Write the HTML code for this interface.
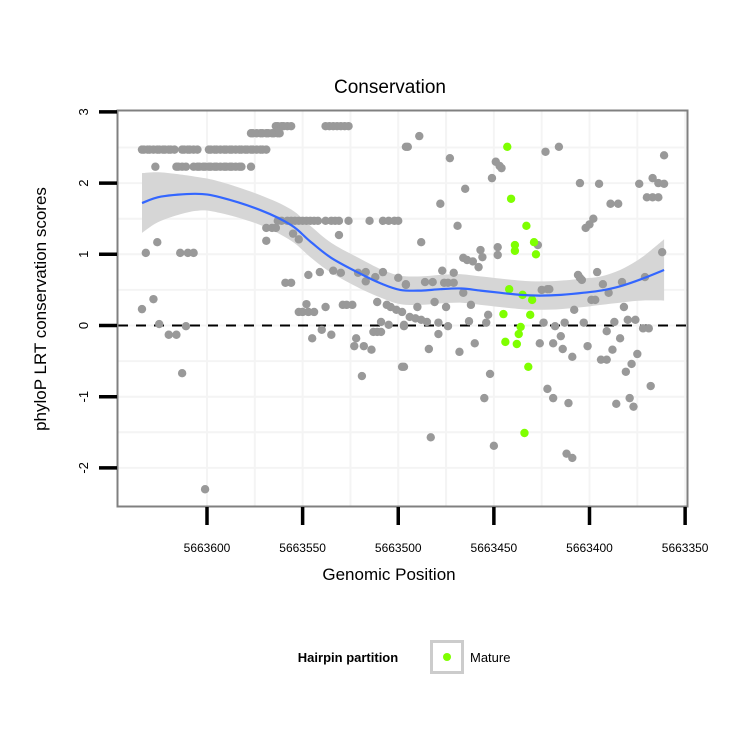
<!DOCTYPE html>
<html><head><meta charset="utf-8">
<style>
html,body{margin:0;padding:0;background:#fff;}
svg text{font-family:"Liberation Sans",sans-serif;}
</style></head>
<body>
<svg id="chart" width="750" height="750" viewBox="0 0 750 750" xmlns="http://www.w3.org/2000/svg">
<rect width="750" height="750" fill="#fff"/>
<text x="390" y="93" font-size="19" text-anchor="middle">Conservation</text>
<g id="grid"></g>
<g id="band"></g>
<line id="zeroline" stroke="#000" stroke-width="2" stroke-dasharray="10,8"/>
<g id="gray"></g>
<g id="green"></g>
<g id="smooth"></g>
<rect x="117.5" y="110.5" width="570" height="396" fill="none" stroke="#808080" stroke-width="2"/>
<g id="xaxis"></g>
<g id="yaxis"></g>
<text x="389" y="580" font-size="17" text-anchor="middle">Genomic Position</text>
<text transform="translate(46,309) rotate(-90)" font-size="17" text-anchor="middle">phyloP LRT conservation scores</text>
<g>
<text x="348" y="662" font-size="13" font-weight="bold" text-anchor="middle">Hairpin partition</text>
<rect x="431.5" y="641.5" width="31" height="31" fill="#fff" stroke="#cccccc" stroke-width="3"/>
<circle cx="447" cy="657" r="4" fill="#7fff00"/>
<text x="470" y="662" font-size="13">Mature</text>
</g>
</svg>
<script>
const BASE = 5663000;
const xTicks = [5663600,5663550,5663500,5663450,5663400,5663350];
const xTickLabels = ["5663600","5663550","5663500","5663450","5663400","5663350"];
const yTicks = [3,2,1,0,-1,-2];
const yTickLabels = ["3","2","1","0","-1","-2"];
const grayX = [634,633,631,630,628,626,625,623,622,620,619,617,613,612,610,609,607,605,599,598,596,595,593,591,590,588,587,585,583,582,580,579,577,576,574,572,571,569,
627,616,615,613,611,607,605,604,602,601,599,598,596,595,593,591,590,588,587,585,583,582,577,
577,576,574,572,571,569,568,566,565,563,562,
564,563,561,560,558,556,538,536,534,532,530,528,526,496,
563,561,558,556,554,552,550,548,546,544,542,538,535,533,531,526,515,508,505,502,500,
569,566,564,569,555,552,531,632,626,614,610,607,559,556,
547,541,534,530,521,517,517,512,508,500,496,
634,628,625,620,616,611,613,601,
552,550,547,544,548,538,529,527,524,511,506,504,501,498,
545,540,535,522,523,518,514,513,511,509,509,505,497,519,498,
489,495,473,449,447,446,451,465,478,469,488,423,416,405,395,374,367,364,361,361,370,367,364,389,385,402,400,398,427,457,456,448,448,466,464,461,458,362,477,471,486,482,476,474,471,466,496,406,405,404,396,393,390,383,371,425,422,421,399,397,408,382,481,475,462,490,494,491,488,485,453,463,454,479,474,497,424,418,413,403,387,380,376,372,369,391,384,479,460,484,468,426,419,415,414,409,401,388,394,391,375,378,381,497,452,455,422,419,411,368,386,379,377,483,450,412,409];
const grayY = [2.47,2.47,2.47,2.47,2.47,2.47,2.47,2.47,2.47,2.47,2.47,2.47,2.47,2.47,2.47,2.47,2.47,2.47,2.47,2.47,2.47,2.47,2.47,2.47,2.47,2.47,2.47,2.47,2.47,2.47,2.47,2.47,2.47,2.47,2.47,2.47,2.47,2.47,
2.23,2.23,2.23,2.23,2.23,2.23,2.23,2.23,2.23,2.23,2.23,2.23,2.23,2.23,2.23,2.23,2.23,2.23,2.23,2.23,2.23,2.23,2.23,
2.70,2.70,2.70,2.70,2.70,2.70,2.70,2.70,2.70,2.70,2.70,
2.80,2.80,2.80,2.80,2.80,2.80,2.80,2.80,2.80,2.80,2.80,2.80,2.80,2.51,
1.47,1.47,1.47,1.47,1.47,1.47,1.47,1.47,1.47,1.47,1.47,1.47,1.47,1.47,1.47,1.47,1.47,1.47,1.47,1.47,1.47,
1.37,1.37,1.37,1.19,1.29,1.21,1.27,1.02,1.17,1.02,1.02,1.02,0.60,0.60,
0.71,0.75,0.77,0.74,0.74,0.75,0.62,0.68,0.75,0.67,0.58,
0.23,0.37,0.02,-0.13,-0.13,-0.01,-0.67,-2.30,
0.19,0.19,0.19,0.19,0.30,0.26,0.29,0.29,0.29,0.33,0.29,0.26,0.22,0.19,
-0.18,-0.06,-0.13,-0.18,-0.29,-0.29,-0.34,-0.09,-0.09,-0.09,0.05,0.01,0.01,-0.71,-0.58,
2.66,2.51,2.35,2.30,2.24,2.21,2.07,1.92,1.71,1.40,1.17,2.44,2.51,2.00,1.99,1.99,2.07,2.00,1.99,2.39,1.80,1.80,1.80,1.71,1.71,1.37,1.42,1.50,1.13,1.06,0.96,1.10,0.99,0.95,0.92,0.90,0.82,1.03,0.77,0.74,0.61,0.61,0.60,0.60,0.60,0.46,0.57,0.71,0.67,0.64,0.75,0.58,0.46,0.61,0.68,0.50,0.51,0.51,0.36,0.36,0.22,0.26,0.33,0.26,0.29,0.26,0.12,0.10,0.08,0.05,0.15,0.06,0.04,0.04,-0.01,-0.01,0.04,-0.01,0.04,0.04,0.05,0.08,0.08,-0.04,-0.04,-0.08,-0.18,-0.12,-0.25,-0.33,-0.37,-0.25,-0.25,-0.15,-0.33,-0.44,-0.29,-0.34,-0.48,-0.48,-0.40,-0.54,-0.65,-0.58,-0.68,-1.02,-0.89,-1.02,-1.09,-0.85,-1.10,-1.02,-1.14,-1.57,-1.69,-1.80,-1.86];
const matureX = [443,441,433,429,439,439,428,442,435,430,445,431,436,437,444,438,432,434];
const matureY = [2.51,1.78,1.40,1.17,1.13,1.05,1.00,0.51,0.43,0.36,0.16,0.15,-0.02,-0.12,-0.23,-0.26,-0.58,-1.51];
const smoothX = [634,624,606,593,572,556,546,535,520,509,499,488,478,467,457,447,436,426,415,403,394,384,373,361];
const smoothFit = [1.72,1.81,1.85,1.80,1.62,1.41,1.18,0.95,0.73,0.59,0.50,0.49,0.51,0.52,0.49,0.46,0.43,0.42,0.43,0.46,0.49,0.55,0.65,0.78];
const smoothSE = [0.42,0.34,0.24,0.22,0.21,0.22,0.22,0.21,0.21,0.20,0.20,0.20,0.20,0.20,0.20,0.20,0.20,0.20,0.20,0.20,0.20,0.23,0.30,0.43];

const NS = "http://www.w3.org/2000/svg";
function sx(v){ return 207 + (5663600 - v) * 1.9125; }
function sy(v){ return 325.5 - v * 71.2; }
function mk(tag, attrs, parent){
  const e = document.createElementNS(NS, tag);
  for (const k in attrs) e.setAttribute(k, attrs[k]);
  parent.appendChild(e);
  return e;
}
function spline(p){
  let d = 'M' + p[0][0].toFixed(1) + ',' + p[0][1].toFixed(1);
  for (let i=0;i<p.length-1;i++){
    const p0 = p[Math.max(i-1,0)], p1 = p[i], p2 = p[i+1], p3 = p[Math.min(i+2,p.length-1)];
    const c1x = p1[0] + (p2[0]-p0[0])/6, c1y = p1[1] + (p2[1]-p0[1])/6;
    const c2x = p2[0] - (p3[0]-p1[0])/6, c2y = p2[1] - (p3[1]-p1[1])/6;
    d += ' C' + c1x.toFixed(1)+','+c1y.toFixed(1)+' '+c2x.toFixed(1)+','+c2y.toFixed(1)+' '+p2[0].toFixed(1)+','+p2[1].toFixed(1);
  }
  return d;
}
const grid = document.getElementById('grid');
[2.5,1.5,0.5,-0.5,-1.5,2,1,0,-1,-2].forEach(v=>{
  const l = mk('line',{x1:118,x2:687,y1:sy(v),y2:sy(v),stroke:'#f4f4f4','stroke-width':2},grid);
  
  
});
[5663575,5663525,5663475,5663425,5663375].concat(xTicks).forEach(v=>{
  const l = mk('line',{x1:sx(v),x2:sx(v),y1:111,y2:506,stroke:'#f4f4f4','stroke-width':2},grid);
  
  
});
const zl = document.getElementById('zeroline');
zl.setAttribute('x1',118); zl.setAttribute('x2',687);
zl.setAttribute('y1',sy(0)); zl.setAttribute('y2',sy(0));

const upP = smoothX.map((x,i)=>[sx(BASE+x), sy(smoothFit[i]+smoothSE[i])]);
const loP = smoothX.map((x,i)=>[sx(BASE+x), sy(smoothFit[i]-smoothSE[i])]).reverse();
const bandD = spline(upP) + ' L' + spline(loP).slice(1) + ' Z';
const band = mk('path',{d:bandD,fill:'#d6d6d6'},document.getElementById('band'));



const gg = document.getElementById('gray');
for (let i=0;i<grayX.length;i++){
  const c = mk('circle',{cx:sx(BASE+grayX[i]),cy:sy(grayY[i]),r:4.2,fill:'#999999'},gg);
  
  
}
const gm = document.getElementById('green');
for (let i=0;i<matureX.length;i++){
  const c = mk('circle',{cx:sx(BASE+matureX[i]),cy:sy(matureY[i]),r:4.2,fill:'#7fff00'},gm);
  
  
}
const fitP = smoothX.map((x,i)=>[sx(BASE+x), sy(smoothFit[i])]);
const sl = mk('path',{d:spline(fitP),fill:'none',stroke:'#3366ff','stroke-width':2.2},document.getElementById('smooth'));



const xa = document.getElementById('xaxis');
xTicks.forEach((v,i)=>{
  const t = mk('line',{x1:sx(v),x2:sx(v),y1:507,y2:525,stroke:'#000','stroke-width':3.5},xa);
  
  
  const tx = mk('text',{x:sx(v),y:552,'font-size':12,'text-anchor':'middle'},xa);
  tx.textContent = xTickLabels[i];
  
  
});
const ya = document.getElementById('yaxis');
yTicks.forEach((v,i)=>{
  const t = mk('line',{x1:99,x2:117,y1:sy(v),y2:sy(v),stroke:'#000','stroke-width':3.5},ya);
  
  
  const tx = mk('text',{transform:'translate(88,'+sy(v)+') rotate(-90)','font-size':13,'text-anchor':'middle'},ya);
  tx.textContent = yTickLabels[i];
  
  
});
</script>
</body></html>
